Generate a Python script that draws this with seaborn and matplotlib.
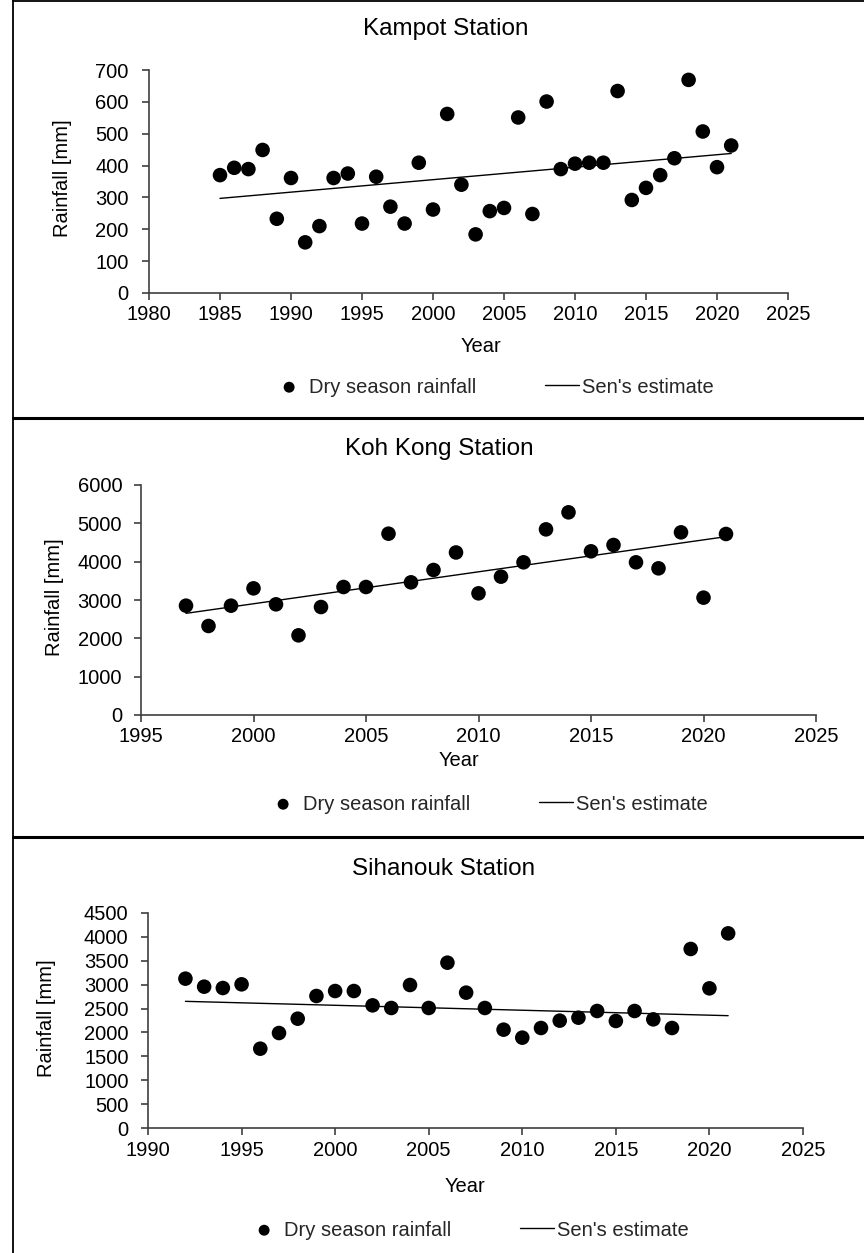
import matplotlib
matplotlib.use("Agg")
import matplotlib.pyplot as plt
import seaborn as sns
from matplotlib.lines import Line2D

# ---------------- data ----------------
kampot_years = list(range(1985, 2022))
kampot_rain = [370, 393, 389, 449, 233, 361, 159, 210, 361, 375, 218, 365, 271,
               218, 409, 262, 562, 340, 184, 257, 267, 551, 248, 601, 389, 406,
               409, 409, 634, 292, 330, 370, 423, 669, 507, 395, 463]
kampot_sen_years = [1985, 2021]
kampot_sen = [297, 438]

kohkong_years = list(range(1997, 2022))
kohkong_rain = [2852, 2322, 2852, 3304, 2887, 2078, 2817, 3339, 3339, 4730, 3461,
                3783, 4240, 3174, 3609, 3983, 4843, 5287, 4270, 4435, 3983, 3826,
                4765, 3061, 4722]
kohkong_sen_years = [1997, 2021]
kohkong_sen = [2652, 4652]

sihanouk_years = list(range(1992, 2022))
sihanouk_rain = [3126, 2958, 2930, 3007, 1660, 1988, 2288, 2763, 2867, 2867, 2567,
                 2512, 2993, 2512, 3460, 2833, 2512, 2058, 1891, 2093, 2247, 2309,
                 2449, 2240, 2449, 2274, 2093, 3747, 2923, 4074]
sihanouk_sen_years = [1992, 2021]
sihanouk_sen = [2651, 2351]

titles = ["Kampot Station", "Koh Kong Station", "Sihanouk Station"]
xlabel = "Year"
ylabel = "Rainfall [mm]"
scatter_label = "Dry season rainfall"
line_label = "Sen's estimate"

# ---------------- style ----------------
sns.set_style("ticks")
plt.rcParams['font.family'] = ['Liberation Sans', 'DejaVu Sans']

W, H = 864, 1253
fig = plt.figure(figsize=(W / 100, H / 100), dpi=100)


def fx(px):
    return px / W


def fy(py):
    return 1 - py / H


panels = [
    dict(years=kampot_years, rain=kampot_rain, sy=kampot_sen_years, sv=kampot_sen,
         box=(149, 788, 70, 293), xlim=(1980, 2025), ylim=(0, 700), ystep=100,
         title=(446, 29), ylab=(62, 178), xlab=(481, 347), leg=(493, 387), ypad=9.5),
    dict(years=kohkong_years, rain=kohkong_rain, sy=kohkong_sen_years, sv=kohkong_sen,
         box=(141, 816, 485, 715), xlim=(1995, 2025), ylim=(0, 6000), ystep=1000,
         title=(439, 449), ylab=(55, 597), xlab=(459, 761), leg=(487, 804), ypad=8.5),
    dict(years=sihanouk_years, rain=sihanouk_rain, sy=sihanouk_sen_years, sv=sihanouk_sen,
         box=(148, 803, 913, 1128), xlim=(1990, 2025), ylim=(0, 4500), ystep=500,
         title=(444, 869), ylab=(46, 1018), xlab=(465, 1187), leg=(468, 1230), ypad=9),
]

axis_col = "#404040"
for i, p in enumerate(panels):
    l, r, t, b = p["box"]
    ax = fig.add_axes([fx(l), fy(b), (r - l) / W, (b - t) / H])
    sns.scatterplot(x=p["years"], y=p["rain"], ax=ax, color="black", s=110,
                    edgecolor="none", label=scatter_label, zorder=3)
    sns.lineplot(x=p["sy"], y=p["sv"], ax=ax, color="black", linewidth=1.0,
                 label=line_label, zorder=2)
    ax.set_xlim(*p["xlim"])
    ax.set_ylim(*p["ylim"])
    ax.set_xticks(list(range(p["xlim"][0], p["xlim"][1] + 1, 5)))
    ax.set_yticks(list(range(p["ylim"][0], p["ylim"][1] + 1, p["ystep"])))
    ax.set_xlabel("")
    ax.set_ylabel("")
    for s in ["top", "right"]:
        ax.spines[s].set_visible(False)
    for s in ["left", "bottom"]:
        ax.spines[s].set_color(axis_col)
        ax.spines[s].set_linewidth(1.2)
    ax.tick_params(axis="x", direction="out", length=5, width=1.2, color=axis_col,
                   labelsize=14.5, pad=4, labelcolor="black")
    ax.tick_params(axis="y", direction="out", length=5, width=1.2, color=axis_col,
                   labelsize=14.5, pad=p["ypad"], labelcolor="black")
    handles, labels = ax.get_legend_handles_labels()
    ax.get_legend().remove()
    fig.legend(handles, labels, loc="center", bbox_to_anchor=(fx(p["leg"][0]), fy(p["leg"][1])),
               ncol=2, frameon=False, fontsize=14.5, handlelength=1.7,
               handletextpad=0.15, columnspacing=3.4, markerscale=0.75)
    fig.text(fx(p["title"][0]), fy(p["title"][1]), titles[i], ha="center", va="center",
             fontsize=17.5, color="black")
    fig.text(fx(p["ylab"][0]), fy(p["ylab"][1]), ylabel, ha="center", va="center",
             rotation=90, fontsize=14.5, color="black")
    fig.text(fx(p["xlab"][0]), fy(p["xlab"][1]), xlabel, ha="center", va="center",
             fontsize=14.5, color="black")

# panel borders
fig.add_artist(Line2D([fx(12.5), fx(12.5)], [0, 1], transform=fig.transFigure,
                      color="black", linewidth=1.3))
fig.add_artist(Line2D([fx(12.5), 1], [fy(0.7), fy(0.7)], transform=fig.transFigure,
                      color="black", linewidth=1.3))
for yy in (417.5, 836.5):
    fig.add_artist(Line2D([fx(12.5), 1], [fy(yy), fy(yy)], transform=fig.transFigure,
                          color="black", linewidth=2.2))

fig.savefig("out.png", dpi=100)
